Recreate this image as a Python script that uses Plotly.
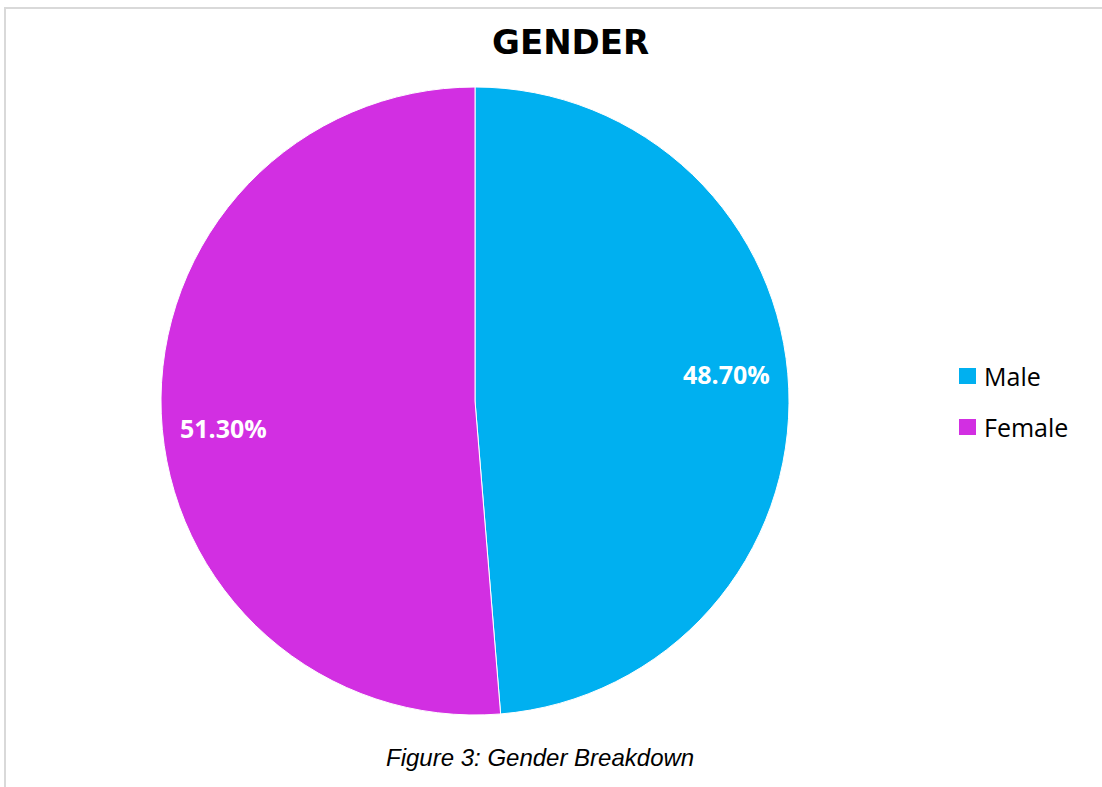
import math
import plotly.graph_objects as go

# Gender breakdown data
categories = ["Male", "Female"]
shares = [48.70, 51.30]
colors = ["#00B0F0", "#D22FE2"]

W, H = 1102, 787
# pie geometry in pixels
cx, cy, r = 475, 401, 314

fig = go.Figure(
    go.Pie(
        labels=categories,
        values=shares,
        sort=False,
        direction="clockwise",
        rotation=0,
        marker=dict(colors=colors, line=dict(color="white", width=1)),
        textinfo="none",
        hoverinfo="label+percent",
        showlegend=False,
        domain=dict(x=[(cx - r) / W, (cx + r) / W], y=[1 - (cy + r) / H, 1 - (cy - r) / H]),
    )
)

def px(x, y):
    return x / W, 1 - y / H

annotations = []
shapes = []

# percentage labels near the outer end of each slice
total = sum(shares)
start = 0.0
label_r = 0.805 * r
tilt = -3.7
for i, (name, v) in enumerate(zip(categories, shares)):
    mid = (start + v / 2) / total * 360.0 + tilt
    start += v
    ang = math.radians(mid)
    lx = cx + label_r * math.sin(ang)
    ly = cy - label_r * math.cos(ang)
    x, y = px(lx, ly)
    annotations.append(dict(
        x=x, y=y, xref="paper", yref="paper", showarrow=False,
        text=f"<b>{v:.2f}%</b>", xanchor="center", yanchor="middle",
        font=dict(family="Open Sans", size=25, color="white"),
    ))

# legend drawn as squares with labels
for i, (name, c) in enumerate(zip(categories, colors)):
    yc = 376 + i * 51
    x0, y0 = px(959, yc - 8)
    x1, y1 = px(976, yc + 8)
    shapes.append(dict(type="rect", xref="paper", yref="paper",
                       x0=x0, x1=x1, y0=y1, y1=y0, fillcolor=c, line=dict(width=0)))
    tx, ty = px(982, yc)
    annotations.append(dict(
        x=tx, y=ty, xref="paper", yref="paper", showarrow=False,
        text=name, xanchor="left", yanchor="middle",
        font=dict(family="Open Sans", size=25, color="black"),
    ))

# title and caption
tx, ty = px(570, 42)
annotations.append(dict(x=tx, y=ty, xref="paper", yref="paper", showarrow=False,
                        text="<b>GENDER</b>", xanchor="center", yanchor="middle",
                        font=dict(family="DejaVu Sans", size=34, color="black")))
tx, ty = px(540, 757)
annotations.append(dict(x=tx, y=ty, xref="paper", yref="paper", showarrow=False,
                        text="<i>Figure 3: Gender Breakdown</i>", xanchor="center", yanchor="middle",
                        font=dict(family="Liberation Sans", size=24, color="black")))

# frame lines along top and left
a = px(4, 8)
b = px(W, 8)
shapes.append(dict(type="line", xref="paper", yref="paper", x0=a[0], y0=a[1], x1=b[0], y1=b[1],
                   line=dict(color="#D9D9D9", width=2)))
c = px(5, H)
shapes.append(dict(type="line", xref="paper", yref="paper", x0=a[0] + 1 / W, y0=a[1], x1=c[0], y1=c[1],
                   line=dict(color="#D9D9D9", width=2)))

fig.update_layout(
    width=W, height=H,
    margin=dict(l=0, r=0, t=0, b=0),
    paper_bgcolor="white", plot_bgcolor="white",
    annotations=annotations, shapes=shapes,
)

fig.write_html("out.html")
